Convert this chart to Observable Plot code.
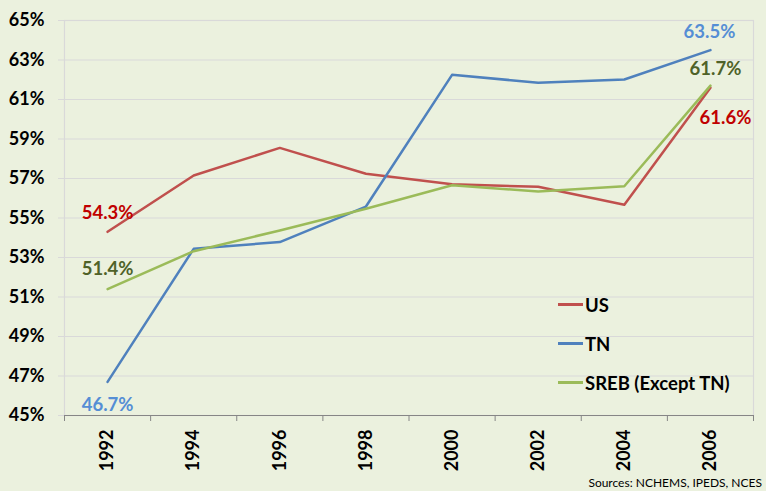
<!DOCTYPE html>
<html>
<head>
<meta charset="utf-8">
<script src="https://cdn.jsdelivr.net/npm/d3@7"></script>
<script src="https://cdn.jsdelivr.net/npm/@observablehq/plot@0.6"></script>
<style>
  html, body { margin: 0; padding: 0; background: #ebf1de; }
  #wrap { position: relative; width: 766px; height: 491px; font-family: Lato, "Open Sans", sans-serif; }
  #legend { position: absolute; left: 558px; top: 285px; font-weight: bold; font-size: 18.5px; color: #000; }
  #legend .row { display: flex; align-items: center; height: 39px; }
  #legend .sw { width: 25px; height: 2.5px; margin-right: 2px; }
  #caption { position: absolute; right: 4px; bottom: 1px; font-size: 12px; color: #000; }
</style>
</head>
<body>
<div id="wrap">
  <div id="chart"></div>
  <div id="legend"></div>
  <div id="caption">Sources: NCHEMS, IPEDS, NCES</div>
</div>
<script>
const years = [1992, 1994, 1996, 1998, 2000, 2002, 2004, 2006];
const us   = [0.543, 0.5715, 0.5855, 0.5724, 0.5671, 0.5658, 0.5567, 0.616];
const tn   = [0.467, 0.5344, 0.5378, 0.5558, 0.6225, 0.6185, 0.6201, 0.635];
const sreb = [0.514, 0.5332, 0.5437, 0.5547, 0.5666, 0.5634, 0.5661, 0.617];
const seriesNames = ["US", "TN", "SREB (Except TN)"];
const lineColors = ["#c0504d", "#4f81bd", "#9bbb59"];
const labelColors = ["#c00000", "#558ed5", "#4f6228"];
const yTicks = [0.45, 0.47, 0.49, 0.51, 0.53, 0.55, 0.57, 0.59, 0.61, 0.63, 0.65];

const allSeries = [us, tn, sreb];
const data = [];
allSeries.forEach((vals, i) => vals.forEach((v, j) => data.push({series: seriesNames[i], year: years[j], value: v})));
const step = years[1] - years[0];
const bounds = [years[0] - step / 2, ...years.map(y => y + step / 2)];

const pt = (i, j) => [{series: seriesNames[i], year: years[j], value: allSeries[i][j]}];
const fmt = d3.format(".1%");
const labelMark = (i, j, dx, dy) => Plot.text(pt(i, j), {
  x: "year", y: "value", text: d => fmt(d.value), dx, dy,
  fill: labelColors[i], fontWeight: "bold", fontSize: 18.5
});
const last = years.length - 1;

const chart = Plot.plot({
  width: 766,
  height: 491,
  marginLeft: 64,
  marginRight: 13,
  marginTop: 20,
  marginBottom: 76,
  style: {background: "transparent", fontFamily: "Lato, 'Open Sans', sans-serif"},
  x: {type: "linear", domain: [bounds[0], bounds[bounds.length - 1]]},
  y: {domain: [0.45, 0.65]},
  color: {domain: seriesNames, range: lineColors},
  marks: [
    Plot.gridY(yTicks, {stroke: "#d9d9d9", strokeOpacity: 1, strokeWidth: 1.2}),
    Plot.axisY(yTicks, {tickSize: 6, tickPadding: 14, stroke: "#d9d9d9", tickFormat: d3.format(".0%"),
      fontSize: 18, fontWeight: "bold", fill: "#000", label: null}),
    Plot.frame({stroke: "#d9d9d9", strokeWidth: 1.2}),
    Plot.axisX(bounds, {tickSize: 6, stroke: "#868686", tickFormat: () => "", label: null}),
    Plot.axisX(years, {tickSize: 0, tickPadding: 14, tickRotate: -90, tickFormat: d => String(d),
      fontSize: 18, fontWeight: "bold", fill: "#000", label: null}),
    Plot.ruleY([0.45], {stroke: "#868686", strokeWidth: 1.2}),
    Plot.line(data, {x: "year", y: "value", z: "series", stroke: "series", strokeWidth: 2.5}),
    labelMark(0, 0, 0, -19),
    labelMark(2, 0, 0, -20),
    labelMark(1, 0, 0, 23),
    labelMark(1, last, -1, -18),
    labelMark(2, last, 5, -17),
    labelMark(0, last, 15, 30.5)
  ]
});
document.getElementById("chart").appendChild(chart);

const legend = document.getElementById("legend");
seriesNames.forEach((name, i) => {
  const row = document.createElement("div");
  row.className = "row";
  const sw = document.createElement("div");
  sw.className = "sw";
  sw.style.background = lineColors[i];
  const t = document.createElement("span");
  t.textContent = name;
  row.appendChild(sw);
  row.appendChild(t);
  legend.appendChild(row);
});
</script>
</body>
</html>
